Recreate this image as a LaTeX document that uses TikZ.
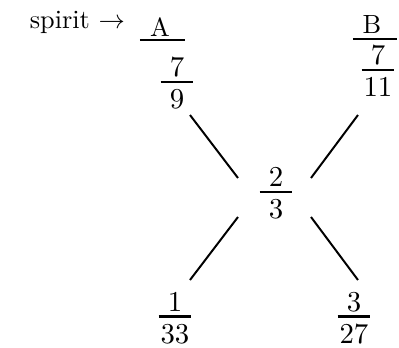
\documentclass[tikz,border=0pt]{standalone}
\usepackage{amsmath}
\usetikzlibrary{calc}
\newcommand{\fr}[2]{\fontsize{11}{13}\selectfont
  $\genfrac{}{}{0.8pt}{0}{\smash[b]{\raisebox{-2.6pt}{\makebox[12.5pt]{$#1$}}}}{\makebox[12.5pt]{$#2$}}$}

\begin{document}
\begin{tikzpicture}[x=0.38pt,y=-0.38pt,line width=0.75pt,
    frac/.style={inner sep=0pt},
    raya/.style={line width=0.8pt}]
  \useasboundingbox (0,0) rectangle (399,348);
  % rotulos de arriba
  \node[anchor=base west] (spirit) at (20,28) {spirit $\rightarrow$};
  \node[anchor=base] (A) at (160,36) {A};
  \draw[raya] ($(A.base)+(-20,4)$) -- ++(45,0);
  \node[anchor=base] (B) at (372,33) {B};
  \draw[raya] ($(B.base)+(-19,6)$) -- ++(44,0);
  % fracciones
  \node[frac] (f79) at (177,83.5) {\fr{7}{9}};
  \node[frac] (f711) at (378,71.5) {\fr{7}{11}};
  \node[frac] (mid) at (276,193.5) {\fr{2}{3}};
  \node[frac] (f133) at (175,318) {\fr{1}{33}};
  \node[frac] (f327) at (354,318) {\fr{3}{27}};
  % aspa
  \draw ($(f79)+(13,31.5)$) -- ($(mid)+(-38,-15.5)$);
  \draw ($(f711)+(-20,43.5)$) -- ($(mid)+(35,-15.5)$);
  \draw ($(mid)+(-38,23.5)$) -- ($(f133)+(15,-38)$);
  \draw ($(mid)+(35,23.5)$) -- ($(f327)+(4,-38)$);
\end{tikzpicture}
\end{document}
